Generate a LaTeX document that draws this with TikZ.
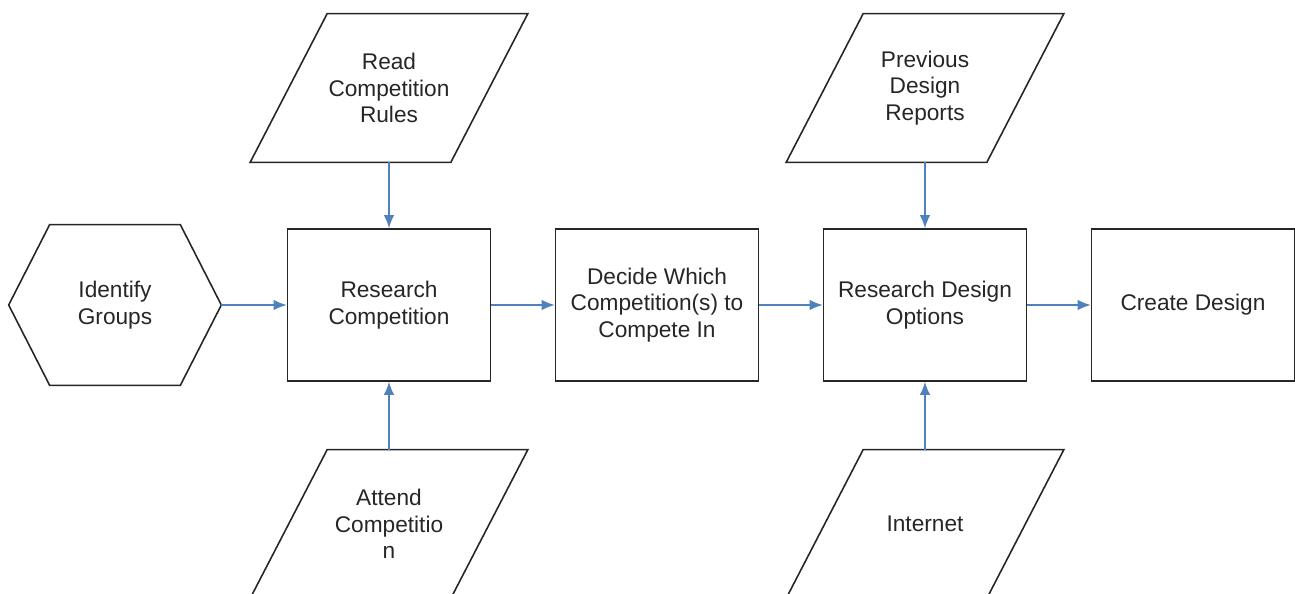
\documentclass[tikz,border=0pt]{standalone}
\usepackage{fontspec}
\setmainfont{Liberation Sans}
\usetikzlibrary{arrows.meta,positioning}
\definecolor{flow}{HTML}{4F81BD}
\definecolor{ink}{HTML}{262626}

\begin{document}
\begin{tikzpicture}[x=0.02cm,y=-0.02cm,
  font=\fontsize{12.9}{15.2}\selectfont, text=ink,
  box/.style={rectangle,draw=ink,line width=0.9pt,fill=white,align=center,
    minimum width=4.06cm,minimum height=3.04cm,inner sep=2pt},
  io/.style={rectangle,align=center,minimum width=4cm,minimum height=2.96cm,inner sep=0pt},
  hex/.style={rectangle,align=center,minimum width=4.24cm,minimum height=3.2cm,inner sep=0pt},
  edge/.style={draw=ink,line width=0.9pt,line join=miter},
  arr/.style={draw=flow,line width=0.8pt,-{Latex[length=7.5pt,width=6pt]}}]
  \useasboundingbox (0,0) rectangle (1295,594);
  % main row
  \node[hex] (groups) at (115,305) {Identify\\Groups};
  \node[box] (research) at (389,305) {Research\\Competition};
  \node[box] (decide) at (657,305) {Decide Which\\Competition(s) to\\Compete In};
  \node[box] (options) at (925,305) {Research Design\\Options};
  \node[box] (create) at (1193,305) {Create Design};
  % inputs
  \node[io] (rules) at (389,88) {Read\\Competition\\Rules};
  \node[io] (attend) at (389,524) {Attend\\Competitio\\n};
  \node[io] (reports) at (925,88) {Previous\\Design\\Reports};
  \node[io] (web) at (925,524) {Internet};
  \draw[edge] (groups.west) -- ([xshift=0.82cm]groups.north west)
    -- ([xshift=-0.82cm]groups.north east) -- (groups.east)
    -- ([xshift=-0.82cm]groups.south east) -- ([xshift=0.82cm]groups.south west) -- cycle;
  \foreach \n in {rules,attend,reports,web}
    \draw[edge] ([xshift=-0.77cm]\n.south west) -- ([xshift=0.77cm]\n.north west)
      -- ([xshift=0.77cm]\n.north east) -- ([xshift=-0.77cm]\n.south east) -- cycle;
  % connectors
  \foreach \a/\b in {groups/research,research/decide,decide/options,options/create}
    \draw[arr] (\a.east) -- (\b.west);
  \draw[arr] (rules.south) -- (research.north);
  \draw[arr] (attend.north) -- (research.south);
  \draw[arr] (reports.south) -- (options.north);
  \draw[arr] (web.north) -- (options.south);
\end{tikzpicture}
\end{document}
